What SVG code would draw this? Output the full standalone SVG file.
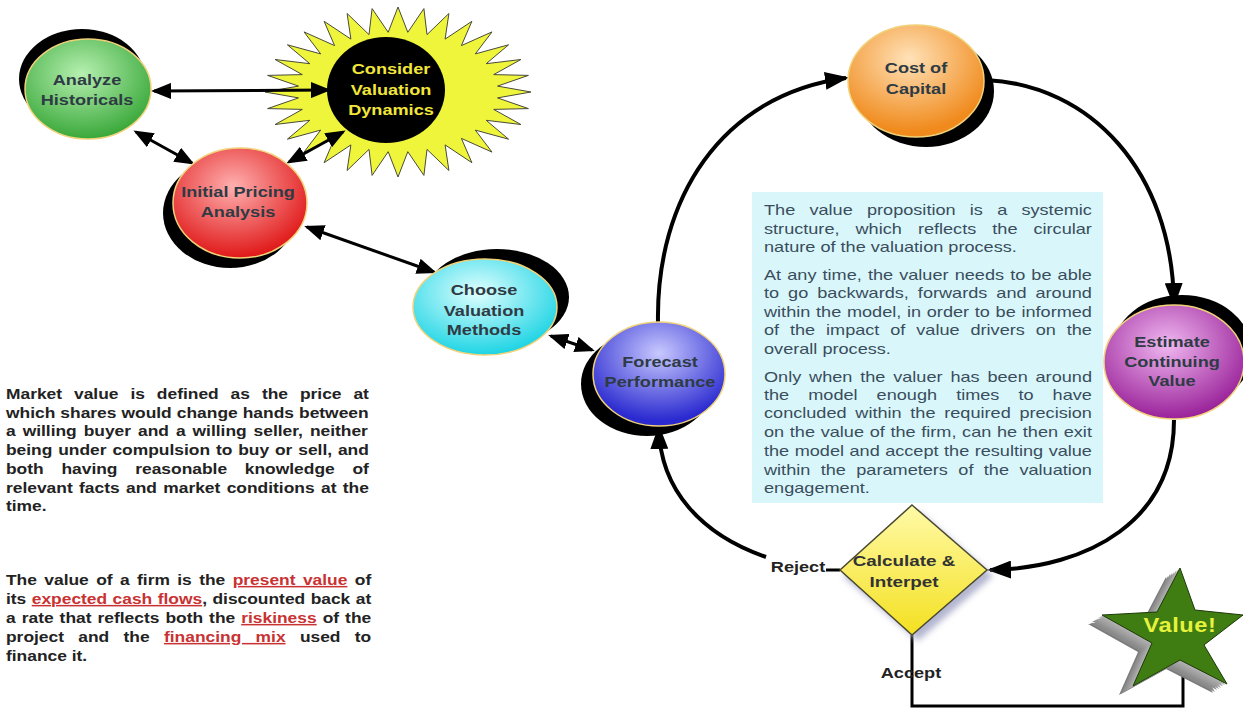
<svg xmlns="http://www.w3.org/2000/svg" xmlns:xlink="http://www.w3.org/1999/xlink" width="1243" height="709" viewBox="0 0 1243 709">
  <style>
    .lbl { font-family: "Liberation Sans", Arial, sans-serif; font-weight: bold; font-size: 14.5px; fill: #2e3b44; text-anchor: middle; }
    .lblY { fill: #f2e63a; }
    .para { font-family: "Liberation Sans", Arial, sans-serif; font-weight: bold; font-size: 15px; fill: #222; }
    .box { font-family: "Liberation Sans", Arial, sans-serif; font-size: 14.5px; fill: #3a4d5c; }
    .term { fill: #c83232; text-decoration: underline; }
    .wire { fill: none; stroke: #000; stroke-width: 3; }
    .loop { fill: none; stroke: #000; stroke-width: 4; }
    .shadow { fill: #000; }
    .rim { stroke: #f0d27a; stroke-width: 1.5; }
  </style>
  <defs>
    <marker id="ah" viewBox="0 0 20 16" refX="17" refY="8" markerWidth="20" markerHeight="16" markerUnits="userSpaceOnUse" orient="auto-start-reverse">
      <path d="M0,0 L20,8 L0,16 z" fill="#000"/>
    </marker>
    <marker id="ahBig" viewBox="0 0 24 18" refX="21" refY="9" markerWidth="24" markerHeight="18" markerUnits="userSpaceOnUse" orient="auto">
      <path d="M0,0 L24,9 L0,18 z" fill="#000"/>
    </marker>
    <radialGradient id="gGreen" cx="45%" cy="35%" r="65%">
      <stop offset="0" stop-color="#b6f0b0"/><stop offset="1" stop-color="#3aa83a"/>
    </radialGradient>
    <radialGradient id="gRed" cx="45%" cy="35%" r="65%">
      <stop offset="0" stop-color="#ffb0b0"/><stop offset="1" stop-color="#e01818"/>
    </radialGradient>
    <radialGradient id="gCyan" cx="45%" cy="35%" r="65%">
      <stop offset="0" stop-color="#e0ffff"/><stop offset="1" stop-color="#1ed4e4"/>
    </radialGradient>
    <radialGradient id="gBlue" cx="50%" cy="30%" r="65%">
      <stop offset="0" stop-color="#c8c8ff"/><stop offset="1" stop-color="#2a2ad0"/>
    </radialGradient>
    <radialGradient id="gOrange" cx="45%" cy="30%" r="65%">
      <stop offset="0" stop-color="#ffe2b8"/><stop offset="1" stop-color="#f08a1c"/>
    </radialGradient>
    <radialGradient id="gPurple" cx="45%" cy="35%" r="65%">
      <stop offset="0" stop-color="#f0b8f0"/><stop offset="1" stop-color="#9a229a"/>
    </radialGradient>
    <linearGradient id="gDiamond" x1="0" y1="0" x2="0" y2="1">
      <stop offset="0" stop-color="#fffaa8"/><stop offset="1" stop-color="#f4e020"/>
    </linearGradient>
    <filter id="soft" x="-20%" y="-20%" width="140%" height="140%">
      <feGaussianBlur stdDeviation="3"/>
    </filter>
    <polygon id="starShape" points="1180,568 1195,610 1243,615 1204,645 1227,684 1180,660 1133,686 1152,643 1102,615 1157,612"/>
  </defs>

  <rect width="1243" height="709" fill="#fff"/>

  <!-- text panel -->
  <g id="panel">
    <rect x="752" y="192" width="351" height="311" fill="#d9f7fb"/>
    <g class="box" transform="translate(764,0) scale(1.25,1)">
      <text x="0" y="215" word-spacing="7.35">The value proposition is a systemic</text>
      <text x="0" y="234" word-spacing="8.79">structure, which reflects the circular</text>
      <text x="0" y="252">nature of the valuation process.</text>
      <text x="0" y="280" word-spacing="0.86">At any time, the valuer needs to be able</text>
      <text x="0" y="298" word-spacing="3.16">to go backwards, forwards and around</text>
      <text x="0" y="317" word-spacing="0.53">within the model, in order to be informed</text>
      <text x="0" y="335" word-spacing="4.67">of the impact of value drivers on the</text>
      <text x="0" y="354">overall process.</text>
      <text x="0" y="382" word-spacing="2.23">Only when the valuer has been around</text>
      <text x="0" y="400" word-spacing="11.21">the model enough times to have</text>
      <text x="0" y="418" word-spacing="2.94">concluded within the required precision</text>
      <text x="0" y="437" word-spacing="0.5">on the value of the firm, can he then exit</text>
      <text x="0" y="456" word-spacing="0.35">the model and accept the resulting value</text>
      <text x="0" y="475" word-spacing="4.29">within the parameters of the valuation</text>
      <text x="0" y="493">engagement.</text>
    </g>
  </g>

  <!-- definitions on the left -->
  <g id="marketValue" class="para" transform="translate(6,0) scale(1.16,1)">
    <text x="0" y="399" word-spacing="6.13">Market value is defined as the price at</text>
    <text x="0" y="418" word-spacing="0.21">which shares would change hands between</text>
    <text x="0" y="436" word-spacing="1.84">a willing buyer and a willing seller, neither</text>
    <text x="0" y="455" word-spacing="0.9">being under compulsion to buy or sell, and</text>
    <text x="0" y="474" word-spacing="11.15">both having reasonable knowledge of</text>
    <text x="0" y="493" word-spacing="1.32">relevant facts and market conditions at the</text>
    <text x="0" y="511">time.</text>
  </g>
  <g id="firmValue" class="para" transform="translate(6,0) scale(1.16,1)">
    <text x="0" y="585" word-spacing="2.21">The value of a firm is the <tspan class="term">present value</tspan> of</text>
    <text x="0" y="604" word-spacing="0.54">its <tspan class="term">expected cash flows</tspan>, discounted back at</text>
    <text x="0" y="623" word-spacing="1.03">a rate that reflects both the <tspan class="term">riskiness</tspan> of the</text>
    <text x="0" y="642" word-spacing="8.19">project and the <tspan class="term">financing mix</tspan> used to</text>
    <text x="0" y="661">finance it.</text>
  </g>

  <!-- sunburst node sits beneath the arrows that reach into it -->
  <g id="considerDynamics">
    <polygon fill="#eef53a" stroke="#4a4a3a" stroke-width="1" points="531,92 497.5,97.9 528.4,108.6 493.7,109.4 520.9,124.5 486.2,120.3 508.6,139.2 475.3,130.1 492,152.1 461.4,138.4 471.9,162.7 445.1,144.9 448.9,170.5 427,149.4 423.9,175.4 407.8,151.7 398,177 388.2,151.7 372.1,175.4 369,149.4 347.1,170.5 350.9,144.9 324.1,162.7 334.6,138.4 304,152.1 320.7,130.1 287.4,139.2 309.8,120.3 275.1,124.5 302.3,109.4 267.6,108.6 298.5,97.9 265,92 298.5,86.1 267.6,75.4 302.3,74.6 275.1,59.5 309.8,63.7 287.4,44.8 320.7,53.9 304,31.9 334.6,45.6 324.1,21.3 350.9,39.1 347.1,13.5 369,34.6 372.1,8.6 388.2,32.3 398,7 407.8,32.3 423.9,8.6 427,34.6 448.9,13.5 445.1,39.1 471.9,21.3 461.4,45.6 492,31.9 475.3,53.9 508.6,44.8 486.2,63.7 520.9,59.5 493.7,74.6 528.4,75.4 497.5,86.1"/>
    <ellipse cx="386" cy="90" rx="59" ry="53" fill="#000"/>
    <g class="lbl lblY" transform="translate(391,0) scale(1.25,1)">
      <text x="0" y="74">Consider</text>
      <text x="0" y="95">Valuation</text>
      <text x="0" y="115">Dynamics</text>
    </g>
  </g>

  <!-- connectors -->
  <g id="connectors">
    <path class="wire" d="M154,91 L328,90" marker-start="url(#ah)" marker-end="url(#ah)"/>
    <path class="wire" d="M136,132 L192,163" marker-start="url(#ah)" marker-end="url(#ah)"/>
    <path class="wire" d="M289,162 L343,132" marker-start="url(#ah)" marker-end="url(#ah)"/>
    <path class="wire" d="M307,227 L434,272" marker-start="url(#ah)" marker-end="url(#ah)"/>
    <path class="wire" d="M551,336 L592,350" marker-start="url(#ah)" marker-end="url(#ah)"/>
    <path class="loop" d="M658,322 C656,200 720,95 846,78" marker-end="url(#ahBig)"/>
    <path class="loop" d="M986,80 C1090,85 1172,170 1174,304" marker-end="url(#ahBig)"/>
    <path class="loop" d="M1174,420 C1174,520 1090,568 990,570" marker-end="url(#ahBig)"/>
    <path class="loop" d="M766,557 C702,535 660,490 659,428" marker-end="url(#ahBig)"/>
    <path class="wire" d="M826,570 L840,570" stroke-width="2.5"/>
    <path class="wire" d="M912,635 V706 H1183 V676" stroke-width="2"/>
  </g>

  <!-- nodes -->
  <g id="analyzeHistoricals">
    <ellipse class="shadow" cx="82" cy="79" rx="63" ry="50"/>
    <ellipse cx="88" cy="89" rx="63" ry="50" fill="url(#gGreen)" class="rim"/>
    <g class="lbl" transform="translate(87,0) scale(1.25,1)">
      <text x="0" y="85">Analyze</text>
      <text x="0" y="105">Historicals</text>
    </g>
  </g>

  <g id="initialPricing">
    <ellipse class="shadow" cx="230" cy="213" rx="67" ry="55"/>
    <ellipse cx="240" cy="203" rx="67" ry="55" fill="url(#gRed)" class="rim"/>
    <g class="lbl" transform="translate(238,0) scale(1.25,1)">
      <text x="0" y="197">Initial Pricing</text>
      <text x="0" y="217">Analysis</text>
    </g>
  </g>

  <g id="chooseMethods">
    <ellipse class="shadow" cx="497" cy="297" rx="72" ry="48"/>
    <ellipse cx="485" cy="307" rx="72" ry="48" fill="url(#gCyan)" class="rim"/>
    <g class="lbl" transform="translate(484,0) scale(1.25,1)">
      <text x="0" y="295">Choose</text>
      <text x="0" y="316">Valuation</text>
      <text x="0" y="335">Methods</text>
    </g>
  </g>

  <g id="forecastPerformance">
    <ellipse class="shadow" cx="647" cy="384" rx="66" ry="52"/>
    <ellipse cx="659" cy="374" rx="66" ry="52" fill="url(#gBlue)" class="rim"/>
    <g class="lbl" transform="translate(660,0) scale(1.25,1)">
      <text x="0" y="367">Forecast</text>
      <text x="0" y="387">Performance</text>
    </g>
  </g>

  <g id="costOfCapital">
    <ellipse class="shadow" cx="926" cy="91" rx="68" ry="56"/>
    <ellipse cx="916" cy="81" rx="68" ry="56" fill="url(#gOrange)" class="rim"/>
    <g class="lbl" transform="translate(916,0) scale(1.25,1)">
      <text x="0" y="73">Cost of</text>
      <text x="0" y="94">Capital</text>
    </g>
  </g>

  <g id="continuingValue">
    <ellipse class="shadow" cx="1182" cy="352" rx="70" ry="57"/>
    <ellipse cx="1174" cy="362" rx="70" ry="57" fill="url(#gPurple)" class="rim"/>
    <g class="lbl" transform="translate(1172,0) scale(1.25,1)">
      <text x="0" y="347">Estimate</text>
      <text x="0" y="367">Continuing</text>
      <text x="0" y="386">Value</text>
    </g>
  </g>

  <g id="calculateInterpret">
    <polygon points="918,511 993,576 918,641 843,576" fill="#b4b6d0" filter="url(#soft)"/>
    <polygon points="912,505 987,570 912,635 840,570" fill="url(#gDiamond)" stroke="#4a4a30" stroke-width="1.5"/>
    <g class="lbl" transform="translate(904,0) scale(1.3,1)">
      <text x="0" y="566" fill="#333">Calculate &amp;</text>
      <text x="0" y="587" fill="#333">Interpet</text>
    </g>
  </g>

  <g id="branchLabels" class="lbl">
    <g transform="translate(798,0) scale(1.25,1)"><text x="0" y="572" fill="#222">Reject</text></g>
    <g transform="translate(911,0) scale(1.25,1)"><text x="0" y="678" fill="#222">Accept</text></g>
  </g>

  <g id="valueStar">
    <use xlink:href="#starShape" transform="translate(-14,9)" fill="#7c7c7c"/>
    <use xlink:href="#starShape" transform="translate(-12,8)" fill="#8a8a8a"/>
    <use xlink:href="#starShape" transform="translate(-10,6)" fill="#909090"/>
    <use xlink:href="#starShape" transform="translate(-8,5)" fill="#989898"/>
    <use xlink:href="#starShape" transform="translate(-6,4)" fill="#a0a0a0"/>
    <use xlink:href="#starShape" transform="translate(-4,2.5)" fill="#a8a8a8"/>
    <use xlink:href="#starShape" transform="translate(-2,1.2)" fill="#b0b0b0"/>
    <use xlink:href="#starShape" fill="#3f7c12" stroke="#1e3a08" stroke-width="1"/>
    <g class="lbl" transform="translate(1180,0) scale(1.18,1)">
      <text x="0" y="632" font-size="20" letter-spacing="0.5" fill="#e6f23c">Value!</text>
    </g>
  </g>
</svg>
